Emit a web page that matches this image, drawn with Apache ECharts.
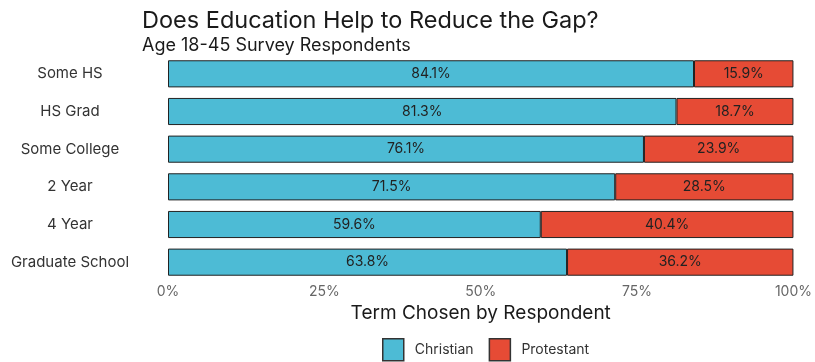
<!DOCTYPE html>
<html>
<head>
<meta charset="utf-8">
<script src="https://cdn.jsdelivr.net/npm/echarts@6/dist/echarts.min.js"></script>
<style>
  html, body { margin: 0; padding: 0; background: #fff; }
  #chart { width: 815px; height: 362px; }
</style>
</head>
<body>
<div id="chart"></div>
<script>
// Education levels, top to bottom
const categories = ['Some HS', 'HS Grad', 'Some College', '2 Year', '4 Year', 'Graduate School'];
// Share of respondents choosing each term (%)
const christian = [84.1, 81.3, 76.1, 71.5, 59.6, 63.8];
const protestant = [15.9, 18.7, 23.9, 28.5, 40.4, 36.2];
const tickLabels = ['0%', '25%', '50%', '75%', '100%'];

const FONT = 'Inter, "Open Sans", sans-serif';
const chart = echarts.init(document.getElementById('chart'));

const labelStyle = {
  show: true,
  position: 'inside',
  color: '#222',
  fontFamily: FONT,
  fontSize: 14,
  formatter: p => p.value.toFixed(1) + '%'
};

chart.setOption({
  backgroundColor: '#fff',
  animation: false,
  textStyle: { fontFamily: FONT },
  title: [
    { text: 'Does Education Help to Reduce the Gap?', left: 137, top: 4,
      textStyle: { fontSize: 23.5, fontWeight: 'normal', color: '#1a1a1a', fontFamily: FONT } },
    { text: 'Age 18-45 Survey Respondents', left: 137, top: 32,
      textStyle: { fontSize: 18, fontWeight: 'normal', color: '#1a1a1a', fontFamily: FONT } }
  ],
  legend: {
    top: 338,
    left: 382,
    padding: 0,
    icon: 'rect',
    itemWidth: 21,
    itemHeight: 22,
    itemGap: 15,
    textStyle: { fontSize: 14, color: '#333', fontFamily: FONT, padding: [0, 0, 0, 6] },
    data: [
      { name: 'Christian', itemStyle: { borderColor: '#333', borderWidth: 1.5 } },
      { name: 'Protestant', itemStyle: { borderColor: '#333', borderWidth: 1.5 } }
    ]
  },
  grid: { left: 168, right: 19, top: 55, bottom: 81 },
  xAxis: {
    type: 'value',
    min: 0, max: 100, interval: 25,
    name: 'Term Chosen by Respondent',
    nameLocation: 'middle',
    nameGap: 21,
    nameTextStyle: { fontSize: 19, color: '#1a1a1a', fontFamily: FONT },
    axisLine: { show: false },
    axisTick: { show: false },
    splitLine: { show: false },
    axisLabel: {
      color: '#666', fontSize: 14, margin: 4, fontFamily: FONT,
      formatter: v => tickLabels[Math.round(v / 25)]
    }
  },
  yAxis: {
    type: 'category',
    data: categories,
    inverse: true,
    axisLine: { show: false },
    axisTick: { show: false },
    axisLabel: { color: '#333', fontSize: 15, align: 'center', margin: 98, fontFamily: FONT }
  },
  series: [
    {
      name: 'Christian', type: 'bar', stack: 'total', data: christian,
      barCategoryGap: '28%',
      itemStyle: { color: '#4DBBD5', borderColor: '#222', borderWidth: 1 },
      label: labelStyle
    },
    {
      name: 'Protestant', type: 'bar', stack: 'total', data: protestant,
      itemStyle: { color: '#E64B35', borderColor: '#222', borderWidth: 1 },
      label: labelStyle
    }
  ]
});
</script>
</body>
</html>
